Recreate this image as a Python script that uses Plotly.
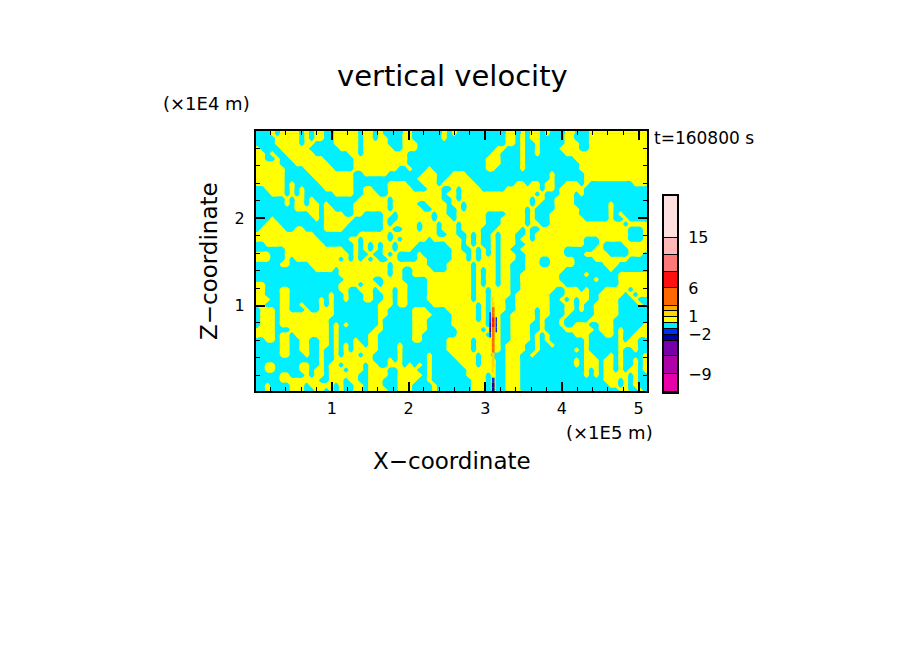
import numpy as np
import plotly.graph_objects as go

# ===== data =====
# w field, top row first. "." is -1..0 m/s, "+" is 0..1 m/s
W_ROWS = [
    "...+.++++. +.++..++++ +.++.+.... ++......+. +......... .++.+.++.+ ...++...++ ++++++++++",
    "....+++++. +.++..++++ +.++.++... ++......+. .......... .++.+.++.. ...++...++ ++++++++++",
    "....+++++. ++....++++ +.+++++... +++....... .......... .++.+..+.. ...+++..++ ++++++++++",
    "+....+++++ +......+++ +.++++++.. +++....... .........+ +...+..+.. ..++++..++ ++++++++++",
    "++.+..++++ ++.......+ +.++++++++ +......... ........++ ....+..+.. ...+++++++ ++++++++++",
    "++..+..+++ ++++...... ++++++++++ +......... .......+++ ....+..... .....+++++ ++++++++++",
    "+++++...++ +++++..... ++++++++++ +......... .......+++ ....+..... ......++++ ++++++++++",
    "++++++.... ++++++.... +++++++++. .+...+.... .......++. ....+..... ......++++ ++++++++++",
    "++++++.... .+++++++++ ..+++++... ....+++... +++....... .......... +......+++ ++++++++++",
    "++++++.... ..++++++++ .......... ...++++..+ ++++...... .......... +......+++ ++++++++++",
    "++++++.+.. ...+++++++ .......+++ +...+++.++ +++++..... ...++.++.+ +..+++.+.. .......+++",
    "..++++.+.+ ....++++++ ..++...+++ ++...+++.. +.++++.... .+++++++.+ +.+++++... ..........",
    "...+++.+.+ ......++++ ..+++..+++ ++++++++.+ +.++++++++ +++++++.+. ..+++.+... ..........",
    "......+.++ .+........ .++++++.++ ++++++++.. +.++++++++ ++++++.++. .++++..... ..........",
    "......+.++ .++.+..... +++++++.++ +++..++++. ++.+++++++ ++++++.+.. .++++..... ..+.......",
    "........++ +++.++.... +++++++.++ ++++..+++. .+.+++++++ +++++.+... .+++++.... ..+.......",
    ".......... .++.++++.. ++....++.+ ++++++.++. .++++++... .++++.+... ++++++.... ..+.+.....",
    "...+...... ..+.++++++ ......+..+ ++++++.+++ .++++++... +++++.+... +++++++... ..+..+....",
    "..+++..... ....+++++. ......+.++ +++.+++.++ +.+++++... +++++.++.. ++++++++++ +++++.++++",
    ".+++++..++ ....++++.. ......++.. +++.+++.++ +.++++...+ ++++.+..++ ++++++++++ ++++++...+",
    "++++++++++ ++........ .++++++.++ +++++++..+ +..+.+..+. +++..+.+++ ++++++++++ ++++++...+",
    "++++++++++ +++......+ +.+++++.+. +++++.++++ ++.+.+..+. +++.++.+++ +++++++... ++++++...+",
    "..++++++++ ++++...... +.+.+.++.+ +++......+ ++.+.+..+. +++..+++++ +++++++... +....+++++",
    "......++++ ++++++++.. +.+.+.++.+ ++........ ++..+.+.+. ++..++++++ +++......+ +.....++++",
    "+++...++++ +++++++++. +..+..+.+. ...+...... +++.+.+.+. +++..+++++ +++....+++ ++....+++.",
    "+++...+.++ +++++++.+. +.+.+..++. ...++..... +++.+.+++. +++..+++.. +++++....+ ++++++....",
    ".....++... .+++++++++ +++++++.++ +++++....+ ++++.++++. ++...+++.. +++++..... .+++......",
    ".......... ..++++.+++ +++++++.++ ..++++...+ ++++.+.++. ++...+++++ +++....... ..+.......",
    ".......... .......+++ +++++++.++ ..++++++++ ++++.+.++. ++..++++++ ++.....+.. ....++++++",
    ".......... ........++ ++++..++++ .....+++++ ++++.+.++. ++..++++++ ++.......+ ....++++++",
    "++........ .......+++ +.+++.++++ +....+++++ ++++.+.++. ++..++++++ +++....... ....++++++",
    "++...++... .......++. .+++.+++.+ +....+++++ ++++.++.++ ++..++++++ +..+++.+.. .+++++.+++",
    "++...++... .....+..+. ..++..++.+ +....+++++ ++++.++.++ ++.+++++++ ...+++++.. +++++.+.++",
    "+++..++... ...+.+..+. ..++..++.+ +....+++++ ++++.++.++ +..+++++++ ..+.+.++.. ++++...+..",
    "++...++..+ ...+.+.... .....+++.+ +.....++++ +++++.+.++ +..+++++++ ...++.+..+ ++++....+.",
    ".+++.++... +..+++.... .....++... ..+++....+ +++++.+.++ +..++++.++ ...++.+..+ ++++......",
    ".+++.+++++ ++++++.... .....++... ..++++.... +++++.+.++ ..+++++.++ ...+.....+ ++++......",
    ".+++.+++++ +++++..... .....+.... ..+++..... +++++.+.++ ..+++++.+. ..+.....++ +++.......",
    ".+++.+++++ +++++.+.+. .....+.... ..+++..... +++++++.++ ..++++..+. ..+..+++.. +++......+",
    "++++...+++ +++++.+... ....++.... ..+++..... .+++++.+++ ..++++..+. ...++++++. +++.+...++",
    "++++.++.++ +++++.+... ...++..... ..++...... .++++++.++ ..++++.+.+ .....+++.. .++.+..+++",
    "..++.++..+ +..++.+... +..++..... ..++.....+ ++++.+++++ ..++++.+.+ .......+.. ....+.++..",
    ".....++..+ +..++.+.+. ++.++....+ .........+ ++++.+++++ .++++..+.. +......+.. ....++++..",
    ".....++..+ +..+..+.+. +++++....+ .........+ ++++.+++++ .++++..+.. .....+.+.. ....+..+..",
    ".....++... +..+..+.++ +.++.....+ .....+.... +++++.++.. .+++..+... .......++. ..+.+....+",
    ".......... ...+..++++ ++++...+.+ .....+.... .++++.+++. .+++...... .....+.+++ .++.+..+.+",
    "..++.....+ +..+.++.++ ++.++..+++ .+.+.+.... ..+++.+++. .+++...... .....+.+++ .++.+..+.+",
    "..++.....+ +.++.+++.+ ++.++++..+ +++..+.... ...++++++. .+++...... .......+.+ .++.+.++.+",
    ".....++... +.++.+++++ +..++++..+ ++++.+.... ...++++.+. .+++...... .......+.+ .+++++.+..",
    ".....+++++ +++..+++.+ +..+++...+ +++..+.... ....+++.+. .+++...... .......... .+++.+.+..",
    "..+....+++ .+++++.+.. ++.+++...+ ++....+... ....+++.+. .+++...... .......... ..++.+.+..",
    "..+....+++ ..++.+.+.. ++.++++..+ ++....+... ....+++.+. .+++...... .......... ....++..+.",
]

# strong up/downdraft core near x = 3.1E5 m, finer columns, same rows from CORE_FIRST_ROW on
CORE_ROWS = [
    ".....d......",
    ".....dd.....",
    ".....oo.....",
    "...b.oo.....",
    "...b.rr.b...",
    "...n.rr.b...",
    "...n.oo.b...",
    "...b.oo.....",
    ".....oo.....",
    ".....oo.....",
    ".....oo.....",
    ".....dd.....",
    ".....dd.....",
    ".....dd.....",
    ".....d......",
    "............",
    ".....bb.....",
    ".....nn.....",
    ".....nn.....",
]
CORE_VALUES = {"d": 1.5, "o": 4.5, "r": 7.5, "b": -1.5, "n": -2.5}
ROW_VALUES = {".": -0.5, "+": 0.5}

LEVELS = [-12, -9, -6, -3, -2, -1, 0, 1, 2, 3, 6, 9, 12, 15, 30]
LEVEL_COLORS = ["#e800a8", "#b000a8", "#7800a8", "#0000a8", "#0030f0", "#00f0ff", "#ffff00",
                "#ffd800", "#ffa800", "#ff6800", "#ff1010", "#ff7878", "#ffb8b8", "#ffe0e0"]
BAR_LABELS = {15: "15", 6: "6", 1: "1", -2: "\u22122", -9: "\u22129"}
X_TICKS = [1, 2, 3, 4, 5]
Z_TICKS = [1, 2]

# ===== layout =====
W, H = 904, 654
PAGE_MARGIN = 8  # browser body margin, the page is shifted by this
X_MAX = 5.12
Z_MAX = 3.0
CORE_FIRST_ROW = 33
CORE_FIRST_COL = 47
BAR_SLOTS = [18, 17.7, 15.7, 6, 6, 5.7, 6, 5.7, 5, 17.7, 16.7, 16.7, 17.3, 41.7]  # px height of each colour
FONT = "DejaVu Sans"


def xfrac(px):
    return (px - PAGE_MARGIN) / W


def yfrac(py):
    return 1 - (py - PAGE_MARGIN) / H


def to_index(z):
    # level number for each value, the colour axis runs over these
    return np.digitize(z, LEVELS) - 1.0


rows = [r.replace(" ", "") for r in W_ROWS]
w = np.array([[ROW_VALUES[c] for c in r] for r in rows])
ny, nx = w.shape
x_edges = np.linspace(0, X_MAX, nx + 1)
z_edges = np.linspace(Z_MAX, 0, ny + 1)
x_mid = (x_edges[:-1] + x_edges[1:]) / 2
z_mid = (z_edges[:-1] + z_edges[1:]) / 2

n = len(LEVEL_COLORS)
scale = []
for i, col in enumerate(LEVEL_COLORS):
    scale += [[i / n, col], [(i + 1) / n, col]]

fig = go.Figure()
# heatmap fills the half cell at the edges that the contour leaves out
fig.add_trace(go.Heatmap(x=x_edges, y=z_edges, z=to_index(w), zmin=-0.5, zmax=n - 0.5,
                         colorscale=scale, showscale=False, hoverinfo="skip"))
fig.add_trace(go.Contour(x=x_mid, y=z_mid, z=w, zmin=-1, zmax=1,
                         colorscale=[[0, LEVEL_COLORS[5]], [0.5, LEVEL_COLORS[5]],
                                     [0.5, LEVEL_COLORS[6]], [1, LEVEL_COLORS[6]]],
                         contours=dict(start=0, end=0, size=1, coloring="fill", showlines=False),
                         line=dict(width=0), showscale=False, hoverinfo="skip"))

# the core is only a pixel or two wide, so draw it as short line pieces above the contour
core_step = (x_edges[CORE_FIRST_COL + 3] - x_edges[CORE_FIRST_COL]) / len(CORE_ROWS[0])
for key, val in CORE_VALUES.items():
    xs, zs = [], []
    for i, row in enumerate(CORE_ROWS):
        for j, ch in enumerate(row):
            if ch == key:
                px = x_edges[CORE_FIRST_COL] + (j + 0.5) * core_step
                xs += [px, px, None]
                zs += [z_edges[CORE_FIRST_ROW + i], z_edges[CORE_FIRST_ROW + i + 1], None]
    color = LEVEL_COLORS[int(to_index(np.array([val]))[0])]
    fig.add_trace(go.Scatter(x=xs, y=zs, mode="lines", line=dict(color=color, width=1.5),
                             hoverinfo="skip"))

# colour key, drawn as its own little heatmap
bar_edges = np.concatenate([[0], np.cumsum(BAR_SLOTS)])
fig.add_trace(go.Heatmap(x=[0, 1], y=bar_edges, z=[[i] for i in range(n)], zmin=-0.5, zmax=n - 0.5,
                         colorscale=scale, showscale=False, hoverinfo="skip", ygap=1,
                         xaxis="x2", yaxis="y2"))
bar_ticks = [bar_edges[LEVELS.index(v)] for v in BAR_LABELS]

axis_common = dict(showgrid=False, zeroline=False, showline=True, linecolor="black", linewidth=2,
                   mirror="ticks", ticks="inside", ticklen=9, tickwidth=2, tickcolor="black",
                   tickfont=dict(family=FONT, size=16, color="black"),
                   minor=dict(dtick=0.2, tick0=0, ticks="inside", ticklen=4, tickwidth=1,
                              tickcolor="black"))

fig.update_layout(
    width=W, height=H, autosize=False,
    margin=dict(l=0, r=0, t=0, b=0),
    paper_bgcolor="white", plot_bgcolor="black",
    showlegend=False,
    xaxis=dict(domain=[xfrac(256), xfrac(647)], range=[0.01, 5.11], tickvals=X_TICKS,
               ticktext=[str(v) for v in X_TICKS], ticklabelstandoff=2, **axis_common),
    yaxis=dict(domain=[yfrac(391), yfrac(131)], range=[0.02, Z_MAX], tickvals=Z_TICKS,
               ticktext=[str(v) for v in Z_TICKS], ticklabelstandoff=6, **axis_common),
    xaxis2=dict(domain=[xfrac(664), xfrac(677)], range=[0, 1], anchor="y2", showgrid=False,
                zeroline=False, showticklabels=False, ticks="", showline=True, mirror=True,
                linecolor="black", linewidth=2),
    yaxis2=dict(domain=[yfrac(392), yfrac(196)], range=[0, bar_edges[-1]], anchor="x2", side="right",
                showgrid=False, zeroline=False, showline=True, mirror=True, linecolor="black",
                linewidth=2, ticks="", tickvals=bar_ticks, ticktext=list(BAR_LABELS.values()),
                tickfont=dict(family=FONT, size=16, color="black"), ticklabelstandoff=6),
)


def label(text, px, py, size, anchor="center", angle=0):
    fig.add_annotation(text=text, x=xfrac(px), y=yfrac(py), xref="paper", yref="paper",
                       xanchor=anchor, yanchor="middle", showarrow=False, textangle=angle,
                       font=dict(family=FONT, size=size, color="black"))


label("vertical velocity", 452, 76, 29)
label("(\u00d71E4 m)", 161, 103, 18, anchor="left")
label("(\u00d71E5 m)", 564, 432, 18, anchor="left")
label("X\u2212coordinate", 452, 461, 23)
label("Z\u2212coordinate", 209, 261, 23, angle=-90)
label("t=160800 s", 652, 138, 17, anchor="left")

fig.write_html("out.html")
